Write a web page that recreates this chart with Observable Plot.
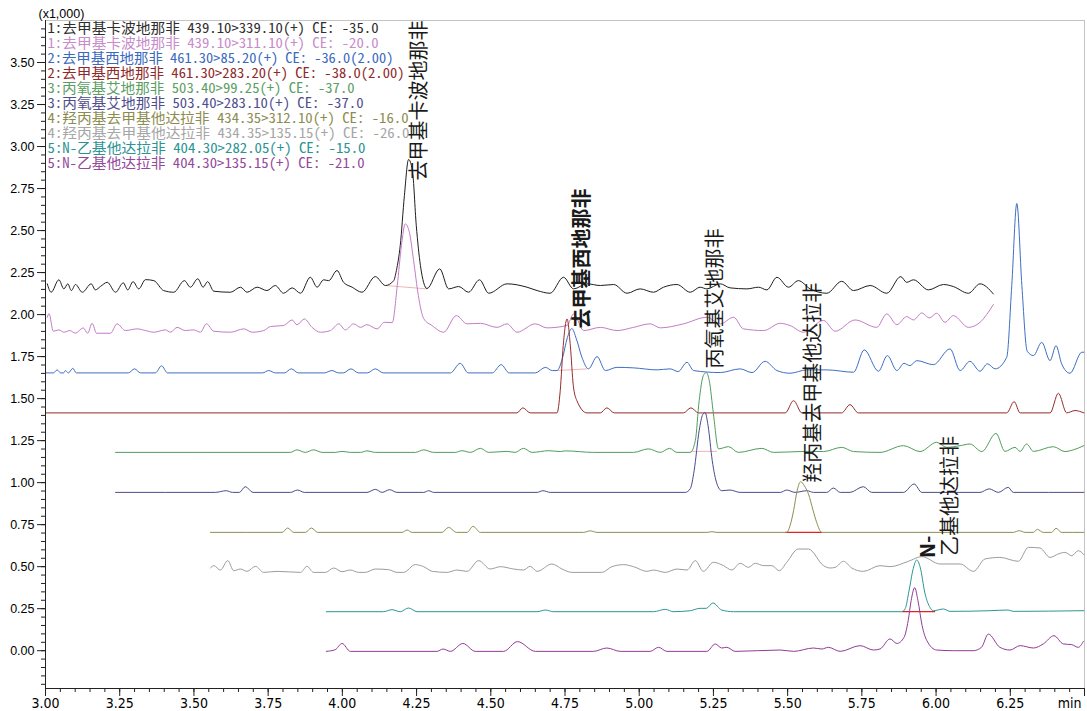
<!DOCTYPE html>
<html>
<head>
<meta charset="utf-8">
<script src="https://cdn.jsdelivr.net/npm/d3@7"></script>
<script src="https://cdn.jsdelivr.net/npm/@observablehq/plot@0.6"></script>
<style>
  html, body { margin: 0; padding: 0; background: #fff; }
  #chart { width: 1087px; height: 711px; }
</style>
</head>
<body>
<div id="chart"></div>
<script>
// MRM chromatograms, intensity in thousands vs retention time (min).
// Each channel: [time, intensity] pairs.

const ch1 = [[3.006,2.183],[3.019,2.133],[3.045,2.207],[3.062,2.153],[3.075,2.183],[3.087,2.143],[3.101,2.179],[3.124,2.133],[3.154,2.183],[3.168,2.147],[3.185,2.167],[3.208,2.192],[3.236,2.133],[3.262,2.189],[3.277,2.147],[3.295,2.196],[3.314,2.153],[3.337,2.208],[3.365,2.202],[3.398,2.143],[3.432,2.133],[3.468,2.202],[3.488,2.163],[3.513,2.213],[3.531,2.163],[3.546,2.196],[3.567,2.139],[3.623,2.133],[3.657,2.163],[3.679,2.133],[3.713,2.163],[3.746,2.143],[3.774,2.173],[3.802,2.127],[3.831,2.159],[3.859,2.127],[3.892,2.222],[3.915,2.163],[3.937,2.207],[3.954,2.202],[3.982,2.262],[4.004,2.192],[4.033,2.163],[4.066,2.133],[4.111,2.226],[4.145,2.173],[4.173,2.202],[4.182,2.262],[4.195,2.411],[4.209,2.708],[4.223,2.923],[4.236,2.857],[4.249,2.530],[4.263,2.292],[4.285,2.155],[4.328,2.272],[4.358,2.153],[4.392,2.167],[4.425,2.133],[4.462,2.207],[4.493,2.127],[4.555,2.183],[4.622,2.163],[4.656,2.143],[4.700,2.127],[4.745,2.222],[4.779,2.153],[4.824,2.183],[4.869,2.173],[4.914,2.179],[4.959,2.127],[5.003,2.153],[5.048,2.133],[5.082,2.163],[5.127,2.179],[5.172,2.133],[5.205,2.163],[5.228,2.153],[5.273,2.183],[5.306,2.159],[5.363,2.153],[5.402,2.163],[5.430,2.147],[5.464,2.222],[5.503,2.163],[5.536,2.202],[5.576,2.153],[5.632,2.127],[5.682,2.198],[5.722,2.143],[5.778,2.173],[5.834,2.127],[5.881,2.226],[5.901,2.192],[5.924,2.207],[5.974,2.147],[6.025,2.179],[6.058,2.167],[6.109,2.127],[6.148,2.183],[6.193,2.123]];

const ch2 = [[3.006,1.984],[3.012,2.006],[3.026,1.901],[3.045,1.909],[3.062,1.895],[3.082,1.905],[3.101,1.889],[3.127,1.921],[3.142,1.889],[3.157,1.948],[3.172,1.889],[3.219,1.889],[3.241,1.945],[3.269,1.905],[3.309,1.915],[3.337,1.905],[3.365,1.895],[3.404,1.909],[3.421,1.895],[3.443,1.924],[3.471,1.905],[3.499,1.909],[3.522,1.895],[3.542,1.945],[3.567,1.901],[3.623,1.895],[3.668,1.915],[3.696,1.895],[3.735,1.905],[3.758,1.929],[3.802,1.935],[3.831,1.968],[3.847,1.939],[3.872,1.974],[3.898,1.924],[3.926,1.895],[3.960,1.905],[3.988,1.945],[4.010,1.909],[4.038,1.945],[4.061,1.924],[4.083,1.940],[4.117,1.915],[4.141,1.954],[4.168,1.952],[4.185,2.173],[4.199,2.411],[4.212,2.540],[4.226,2.488],[4.240,2.321],[4.256,2.113],[4.274,1.976],[4.302,1.935],[4.341,1.895],[4.384,1.994],[4.420,1.945],[4.465,1.948],[4.521,1.924],[4.555,1.945],[4.588,1.895],[4.650,1.945],[4.689,1.921],[4.757,1.935],[4.779,2.004],[4.813,1.905],[4.869,1.924],[4.925,1.905],[4.981,1.924],[5.037,1.945],[5.071,1.921],[5.149,1.945],[5.228,1.984],[5.273,1.945],[5.318,1.984],[5.351,1.915],[5.419,1.905],[5.475,1.948],[5.508,1.935],[5.553,1.895],[5.621,1.965],[5.660,1.901],[5.727,1.968],[5.800,1.924],[5.834,2.004],[5.868,1.940],[5.901,1.988],[5.924,1.968],[5.952,2.010],[5.977,1.980],[6.002,2.008],[6.030,1.954],[6.058,1.994],[6.109,1.924],[6.148,1.954],[6.193,2.060]];

const ch3 = [[3.000,1.653],[3.027,1.653],[3.039,1.671],[3.051,1.653],[3.061,1.653],[3.067,1.667],[3.077,1.653],[3.092,1.680],[3.104,1.653],[3.279,1.653],[3.300,1.677],[3.320,1.653],[3.370,1.653],[3.391,1.695],[3.411,1.653],[3.731,1.653],[3.752,1.667],[3.774,1.653],[3.805,1.653],[3.828,1.677],[3.852,1.653],[3.939,1.653],[3.965,1.667],[3.987,1.653],[4.003,1.653],[4.029,1.677],[4.054,1.653],[4.084,1.653],[4.111,1.677],[4.138,1.653],[4.364,1.653],[4.397,1.710],[4.424,1.653],[4.505,1.653],[4.535,1.702],[4.562,1.653],[4.650,1.653],[4.684,1.686],[4.707,1.667],[4.723,1.667],[4.741,1.738],[4.758,1.863],[4.773,1.917],[4.788,1.857],[4.807,1.746],[4.829,1.677],[4.858,1.750],[4.886,1.667],[4.925,1.686],[4.981,1.683],[5.060,1.671],[5.104,1.677],[5.131,1.661],[5.161,1.716],[5.183,1.667],[5.273,1.655],[5.340,1.677],[5.380,1.655],[5.424,1.722],[5.464,1.667],[5.508,1.651],[5.565,1.671],[5.632,1.671],[5.722,1.657],[5.758,1.790],[5.806,1.663],[5.836,1.756],[5.868,1.667],[5.892,1.710],[5.912,1.696],[5.935,1.726],[5.991,1.702],[6.047,1.796],[6.081,1.667],[6.114,1.722],[6.148,1.663],[6.173,1.707],[6.199,1.677],[6.238,1.746],[6.255,2.173],[6.272,2.661],[6.289,2.173],[6.307,1.782],[6.328,1.756],[6.356,1.835],[6.384,1.726],[6.404,1.815],[6.423,1.707],[6.451,1.651],[6.491,1.776],[6.498,1.776]];

const ch4 = [[3.000,1.415],[4.588,1.415],[4.608,1.445],[4.633,1.415],[4.723,1.415],[4.734,1.548],[4.744,1.815],[4.757,1.974],[4.768,1.815],[4.778,1.577],[4.790,1.488],[4.824,1.415],[4.869,1.415],[4.891,1.445],[4.916,1.415],[5.149,1.415],[5.174,1.445],[5.200,1.415],[5.492,1.415],[5.520,1.488],[5.548,1.415],[5.682,1.415],[5.710,1.464],[5.738,1.415],[6.238,1.415],[6.263,1.482],[6.283,1.415],[6.384,1.415],[6.412,1.532],[6.440,1.415],[6.468,1.429],[6.498,1.415]];

const ch5 = [[3.236,1.180],[3.825,1.180],[3.847,1.195],[3.875,1.180],[3.903,1.195],[3.932,1.180],[3.976,1.180],[3.999,1.186],[4.027,1.180],[4.061,1.180],[4.083,1.189],[4.111,1.180],[4.246,1.180],[4.274,1.195],[4.307,1.180],[4.380,1.180],[4.403,1.190],[4.431,1.180],[4.465,1.204],[4.493,1.180],[4.555,1.186],[4.582,1.180],[4.610,1.204],[4.639,1.180],[4.695,1.190],[4.734,1.185],[4.751,1.189],[4.846,1.180],[4.981,1.180],[5.031,1.201],[5.071,1.180],[5.102,1.204],[5.127,1.180],[5.172,1.180],[5.189,1.250],[5.202,1.488],[5.216,1.637],[5.226,1.655],[5.236,1.607],[5.250,1.409],[5.267,1.201],[5.301,1.214],[5.334,1.180],[5.413,1.204],[5.452,1.180],[5.542,1.185],[5.576,1.186],[5.621,1.185],[5.682,1.210],[5.722,1.185],[5.811,1.180],[5.890,1.220],[5.946,1.185],[6.002,1.240],[6.036,1.210],[6.081,1.220],[6.114,1.230],[6.154,1.185],[6.202,1.293],[6.232,1.186],[6.266,1.210],[6.283,1.186],[6.305,1.230],[6.328,1.186],[6.395,1.214],[6.434,1.185],[6.462,1.195],[6.498,1.220]];

const ch6 = [[3.236,0.942],[3.572,0.942],[3.609,0.952],[3.630,0.942],[3.653,0.942],[3.673,0.976],[3.699,0.942],[3.825,0.942],[3.849,0.956],[3.872,0.942],[4.083,0.942],[4.111,0.960],[4.134,0.942],[4.159,0.958],[4.184,0.942],[4.274,0.942],[4.291,0.952],[4.307,0.942],[4.656,0.942],[4.676,0.952],[4.700,0.942],[5.155,0.942],[5.172,0.964],[5.185,1.071],[5.202,1.310],[5.214,1.405],[5.222,1.417],[5.232,1.339],[5.246,1.131],[5.262,0.992],[5.278,0.952],[5.306,0.956],[5.340,0.942],[5.475,0.942],[5.497,0.956],[5.525,0.942],[5.565,0.952],[5.587,0.942],[5.632,0.942],[5.654,0.968],[5.677,0.942],[5.710,0.942],[5.755,0.976],[5.783,0.942],[5.890,0.942],[5.926,0.992],[5.952,0.942],[6.148,0.942],[6.179,0.963],[6.210,0.942],[6.243,0.972],[6.260,0.942],[6.498,0.942]];

const ch7 = [[3.556,0.704],[3.797,0.704],[3.816,0.730],[3.836,0.704],[3.875,0.704],[3.896,0.730],[3.917,0.704],[4.201,0.704],[4.218,0.718],[4.235,0.704],[4.336,0.704],[4.358,0.734],[4.384,0.704],[4.420,0.704],[4.440,0.740],[4.465,0.704],[4.812,0.704],[4.835,0.713],[4.858,0.704],[5.228,0.704],[5.245,0.708],[5.262,0.704],[5.497,0.704],[5.508,0.744],[5.520,0.833],[5.532,0.952],[5.544,1.006],[5.556,0.982],[5.570,0.933],[5.586,0.833],[5.598,0.762],[5.615,0.704],[6.260,0.704],[6.280,0.714],[6.300,0.704],[6.328,0.704],[6.341,0.722],[6.361,0.704],[6.389,0.704],[6.404,0.728],[6.423,0.704],[6.498,0.704]];

const ch8 = [[3.556,0.492],[3.567,0.506],[3.589,0.480],[3.614,0.536],[3.634,0.476],[3.657,0.486],[3.679,0.472],[3.707,0.502],[3.735,0.466],[3.780,0.472],[3.859,0.466],[3.881,0.502],[3.903,0.466],[3.943,0.466],[3.971,0.492],[3.999,0.470],[4.027,0.480],[4.055,0.466],[4.077,0.466],[4.111,0.486],[4.156,0.482],[4.184,0.466],[4.206,0.466],[4.246,0.512],[4.274,0.500],[4.303,0.472],[4.353,0.466],[4.386,0.480],[4.420,0.472],[4.459,0.536],[4.498,0.486],[4.532,0.500],[4.577,0.486],[4.610,0.480],[4.633,0.502],[4.656,0.472],[4.706,0.516],[4.740,0.486],[4.773,0.466],[4.874,0.466],[4.908,0.500],[4.947,0.512],[4.981,0.500],[5.026,0.472],[5.048,0.480],[5.088,0.466],[5.127,0.486],[5.161,0.480],[5.189,0.536],[5.216,0.472],[5.250,0.526],[5.284,0.506],[5.312,0.480],[5.340,0.520],[5.368,0.496],[5.391,0.520],[5.419,0.506],[5.447,0.506],[5.472,0.476],[5.497,0.526],[5.536,0.605],[5.570,0.605],[5.621,0.506],[5.643,0.492],[5.660,0.496],[5.688,0.532],[5.716,0.492],[5.755,0.472],[5.811,0.506],[5.845,0.500],[5.907,0.532],[5.952,0.560],[6.013,0.516],[6.081,0.516],[6.126,0.472],[6.165,0.546],[6.215,0.555],[6.277,0.532],[6.311,0.615],[6.350,0.611],[6.384,0.555],[6.412,0.576],[6.434,0.585],[6.457,0.565],[6.479,0.595],[6.498,0.571]];

const ch9 = [[3.946,0.232],[4.139,0.232],[4.167,0.244],[4.195,0.232],[4.223,0.254],[4.252,0.232],[4.656,0.232],[4.684,0.242],[4.711,0.232],[5.048,0.232],[5.088,0.246],[5.115,0.232],[5.172,0.238],[5.205,0.252],[5.226,0.252],[5.248,0.284],[5.278,0.242],[5.318,0.232],[5.885,0.232],[5.896,0.250],[5.909,0.357],[5.923,0.488],[5.935,0.540],[5.946,0.500],[5.963,0.338],[5.980,0.256],[5.991,0.238],[6.025,0.248],[6.047,0.234],[6.182,0.238],[6.243,0.242],[6.260,0.234],[6.498,0.238]];

const ch10 = [[3.946,-0.004],[3.976,0.006],[3.999,0.043],[4.027,-0.004],[4.319,-0.004],[4.339,0.010],[4.364,-0.004],[4.406,0.043],[4.448,-0.004],[4.543,-0.004],[4.590,0.054],[4.650,-0.004],[4.846,-0.004],[4.891,0.016],[4.936,-0.004],[5.037,-0.004],[5.065,0.020],[5.093,-0.004],[5.228,-0.004],[5.256,0.040],[5.278,0.016],[5.295,0.020],[5.323,-0.004],[5.475,0.004],[5.520,-0.004],[5.587,0.016],[5.615,0.010],[5.637,0.020],[5.677,-0.004],[5.744,0.030],[5.789,0.004],[5.811,0.010],[5.845,0.070],[5.868,0.043],[5.892,0.079],[5.906,0.179],[5.916,0.298],[5.928,0.375],[5.939,0.298],[5.953,0.149],[5.969,0.060],[6.002,0.004],[6.058,0.000],[6.125,0.000],[6.153,0.020],[6.176,0.099],[6.215,0.020],[6.249,0.004],[6.283,0.030],[6.328,0.016],[6.361,0.040],[6.397,0.089],[6.429,0.040],[6.457,0.036],[6.479,0.020],[6.496,0.055]];

const channels = [ch1, ch2, ch3, ch4, ch5, ch6, ch7, ch8, ch9, ch10];

// Channel legend entries
const channelNames = [
  "1:去甲基卡波地那非 439.10>339.10(+) CE: -35.0",
  "1:去甲基卡波地那非 439.10>311.10(+) CE: -20.0",
  "2:去甲基西地那非 461.30>85.20(+) CE: -36.0(2.00)",
  "2:去甲基西地那非 461.30>283.20(+) CE: -38.0(2.00)",
  "3:丙氧基艾地那非 503.40>99.25(+) CE: -37.0",
  "3:丙氧基艾地那非 503.40>283.10(+) CE: -37.0",
  "4:羟丙基去甲基他达拉非 434.35>312.10(+) CE: -16.0",
  "4:羟丙基去甲基他达拉非 434.35>135.15(+) CE: -26.0",
  "5:N-乙基他达拉非 404.30>282.05(+) CE: -15.0",
  "5:N-乙基他达拉非 404.30>135.15(+) CE: -21.0"
];
const channelColors = ["#1e1e1e", "#c47cc6", "#3d6fc3", "#952b2b", "#4f9c5e", "#4a4a8c", "#8e8e50", "#9c9c9c", "#2b9696", "#923a98"];
const legendColors  = ["#2e2e2e", "#c68ccb", "#3a69bd", "#8e2a2a", "#5a9e63", "#4f4f8d", "#8c8c50", "#a6a6a6", "#2c9393", "#944a9c"];

// Integration baselines under the quantified peaks: [t1, v1, t2, v2]
const baselinesFaint = [[4.145, 2.173, 4.285, 2.153], [4.723, 1.667, 4.824, 1.677], [5.172, 1.186, 5.262, 1.186]];
const baselinesRed   = [[5.492, 0.704, 5.615, 0.704], [5.885, 0.232, 5.997, 0.232]];

// Compound peak annotations: name, apex time, apex intensity
const peakNames = ["去甲基卡波地那非", "去甲基西地那非", "丙氧基艾地那非", "羟丙基去甲基他达拉非", "N-", "乙基他达拉非"];
const peakTimes = [4.223, 4.773, 5.226, 5.544, 5.935, 5.935];
const peakValues = [2.923, 1.917, 1.655, 1.006, 0.540, 0.540];

// Axis ticks
const xMajor = [3.00, 3.25, 3.50, 3.75, 4.00, 4.25, 4.50, 4.75, 5.00, 5.25, 5.50, 5.75, 6.00, 6.25, 6.50];
const xMajorLabels = ["3.00", "3.25", "3.50", "3.75", "4.00", "4.25", "4.50", "4.75", "5.00", "5.25", "5.50", "5.75", "6.00", "6.25", ""];
const yMajor = [0.00, 0.25, 0.50, 0.75, 1.00, 1.25, 1.50, 1.75, 2.00, 2.25, 2.50, 2.75, 3.00, 3.25, 3.50];
const xMinor = d3.range(60, 131, 1).map(k => k / 20);
const yMinor = d3.range(-4, 75, 1).map(k => k / 20);

const cjk = "'Noto Sans CJK SC', sans-serif";
const monoCjk = "'Noto Sans Mono CJK SC', 'Noto Sans CJK SC', sans-serif";
const narrow = "'Liberation Sans Narrow', 'DejaVu Sans Condensed', 'Liberation Sans', sans-serif";

const legendMarks = channelNames.map((name, i) =>
  Plot.text([name], {
    frameAnchor: "top-left",
    text: d => d,
    dx: 2,
    dy: 8.5 + 15 * i,
    textAnchor: "start",
    lineAnchor: "middle",
    fill: legendColors[i],
    fontSize: 14,
    fontFamily: monoCjk
  })
);

const peakMark = (i, dx, dy, weight) =>
  Plot.text([i], {
    x: j => peakTimes[j],
    y: j => peakValues[j],
    text: j => peakNames[j],
    rotate: -90,
    textAnchor: "start",
    lineAnchor: "middle",
    dx, dy,
    fill: "#1a1a1a",
    fontSize: 20,
    fontWeight: weight,
    fontFamily: cjk
  });

const xLabel = d => xMajorLabels[xMajor.indexOf(d)] ?? "";

const chart = Plot.plot({
  width: 1087,
  height: 711,
  marginLeft: 45,
  marginRight: 3,
  marginTop: 20,
  marginBottom: 23,
  x: {domain: [3, 6.5]},
  y: {domain: [-0.225, 3.75]},
  style: {background: "#fff", fontFamily: "'Liberation Sans', Arial, sans-serif", color: "#000"},
  marks: [
    Plot.frame({stroke: "#c4c4c4"}),
    // integration baselines
    Plot.link(baselinesFaint, {x1: d => d[0], y1: d => d[1], x2: d => d[2], y2: d => d[3], stroke: "#f2b4b4", strokeWidth: 1}),
    Plot.link(baselinesRed, {x1: d => d[0], y1: d => d[1], x2: d => d[2], y2: d => d[3], stroke: "#e02222", strokeWidth: 1.2}),
    // chromatogram traces
    ...channels.map((pts, i) =>
      Plot.line(pts, {x: d => d[0], y: d => d[1], stroke: channelColors[i], strokeWidth: 1, curve: "monotone-x"})
    ),
    // axes
    Plot.ruleX([3], {stroke: "#222"}),
    Plot.ruleY([-0.225], {stroke: "#222"}),
    Plot.axisY({ticks: yMinor, tickSize: 4, tickFormat: () => "", stroke: "#222"}),
    Plot.axisY({ticks: yMajor, tickSize: 8, tickPadding: 3, tickFormat: d3.format(".2f"), fontSize: 12.5, stroke: "#222", fill: "#000"}),
    Plot.axisX({ticks: xMinor, tickSize: 4, tickFormat: () => "", stroke: "#222"}),
    Plot.axisX({ticks: xMajor, tickSize: 8, tickPadding: 2, tickFormat: xLabel, fontSize: 14, fontFamily: narrow, stroke: "#222", fill: "#000"}),
    Plot.text(["min"], {frameAnchor: "bottom-right", text: d => d, dx: -3, dy: 15, textAnchor: "end", lineAnchor: "middle", fontSize: 14, fontFamily: narrow, fill: "#000"}),
    Plot.text(["(x1,000)"], {frameAnchor: "top-left", text: d => d, dx: -7, dy: -7, textAnchor: "start", lineAnchor: "middle", fontSize: 12.5, fill: "#000"}),
    // legend
    ...legendMarks,
    // peak annotations
    peakMark(0, 11, 21, "normal"),
    peakMark(1, 11, 0, "bold"),
    peakMark(2, 9, -4, "normal"),
    peakMark(3, 13, 1, "normal"),
    peakMark(4, 12, -2, "bold"),
    peakMark(5, 34, -4, "normal")
  ]
});

document.getElementById("chart").appendChild(chart);

// Fit legend rows to their printed widths
const legendRight = [378, 378, 393, 404, 354, 363, 408, 409, 365, 364];
chart.querySelectorAll("text").forEach(el => {
  const i = channelNames.indexOf(el.textContent);
  if (i >= 0) {
    el.setAttribute("textLength", legendRight[i] - 47);
    el.setAttribute("lengthAdjust", "spacingAndGlyphs");
  }
});
</script>
</body>
</html>
